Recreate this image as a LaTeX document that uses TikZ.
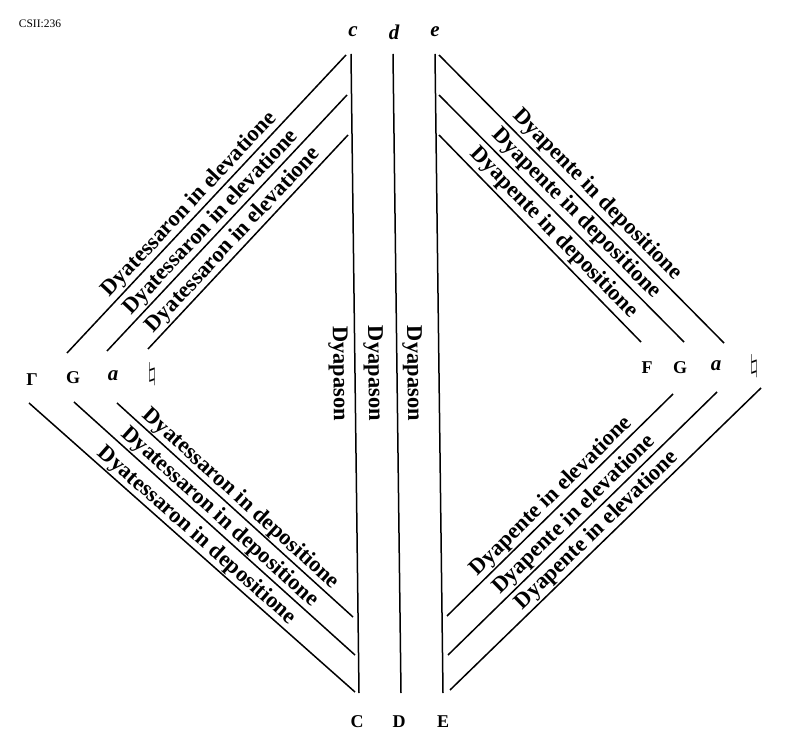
\documentclass[tikz,border=0pt]{standalone}
\usepackage{fontspec}
\setmainfont{Liberation Serif}
\usetikzlibrary{math}

\begin{document}
\begin{tikzpicture}[x=1pt,y=-1pt,
    ruling/.style={line width=1.5pt},
    interval/.style={font=\fontsize{22.5}{22.5}\selectfont\bfseries, inner sep=1pt},
    key/.style={font=\fontsize{18}{18}\selectfont\bfseries},
    keyit/.style={font=\fontsize{21}{21}\selectfont\bfseries\itshape},
    quad/.style={font=\fontsize{30}{30}\selectfont}]
  \useasboundingbox (0,0) rectangle (795,735);
  \tikzmath{\ytop = 54; \ybot = 693; \slant = 8;}
  \node[font=\fontsize{11.5}{11.5}\selectfont] (folio) at (40,24) {CSII:236};

  \node[keyit] (c) at (353,32) {c};
  \node[keyit] (d) at (394,32) {d};
  \node[keyit] (e) at (435,32) {e};
  \node[key] (C) at (357,722) {C};
  \node[key] (D) at (399,722) {D};
  \node[key] (E) at (443,722) {E};
  \foreach \n/\x in {c/351,d/393,e/435} {
    \coordinate (\n top) at (\x,\ytop);
    \coordinate (\n bot) at (\x + \slant,\ybot);
  }
  \draw[ruling] (ctop) -- (cbot)
    node[interval, pos=0.5, sloped, below=5pt] (dyap1) {Dyapason}
    node[interval, pos=0.5, sloped, above=7pt] (dyap2) {Dyapason};
  \draw[ruling] (dtop) -- (dbot)
    node[interval, pos=0.5, sloped, above=4pt] (dyap3) {Dyapason};
  \draw[ruling] (etop) -- (ebot);

  \node[key] (Gam) at (32,380) {Γ};
  \node[key] (Gl) at (73,378) {G};
  \node[keyit] (al) at (113,376) {a};
  \node[quad] (ql) at (152,374) {$\natural$};
  \node[key] (Fr) at (647,368) {F};
  \node[key] (Gr) at (680,368) {G};
  \node[keyit] (ar) at (716,366) {a};
  \node[quad] (qr) at (754,366) {$\natural$};

  \foreach \n/\xa/\ya/\xb/\yb in {1/67/353/346/55, 2/107/351/347/95, 3/148/349/348/135} {
    \coordinate (ula\n) at (\xa,\ya);
    \coordinate (ulb\n) at (\xb,\yb);
    \draw[ruling] (ula\n) -- (ulb\n)
      node[interval, pos=0.47, sloped, above] (ult\n) {Dyatessaron in elevatione};
  }
  \foreach \n/\xa/\ya/\xb/\yb in {1/29/403/355/692, 2/74/402/355/655, 3/117/403/353/617} {
    \coordinate (lla\n) at (\xa,\ya);
    \coordinate (llb\n) at (\xb,\yb);
    \draw[ruling] (lla\n) -- (llb\n)
      node[interval, pos=0.49, sloped, above] (llt\n) {Dyatessaron in depositione};
  }
  \foreach \n/\xa/\ya/\xb/\yb in {1/439/55/724/343, 2/439/95/684/342, 3/439/135/641/342} {
    \coordinate (ura\n) at (\xa,\ya);
    \coordinate (urb\n) at (\xb,\yb);
    \draw[ruling] (ura\n) -- (urb\n)
      node[interval, pos=0.52, sloped, above=2pt] (urt\n) {Dyapente in depositione};
  }
  \foreach \n/\xa/\ya/\xb/\yb in {1/450/690/761/388, 2/448/655/717/392, 3/447/616/673/394} {
    \coordinate (lra\n) at (\xa,\ya);
    \coordinate (lrb\n) at (\xb,\yb);
    \draw[ruling] (lra\n) -- (lrb\n)
      node[interval, pos=0.5, sloped, above] (lrt\n) {Dyapente in elevatione};
  }
\end{tikzpicture}
\end{document}
